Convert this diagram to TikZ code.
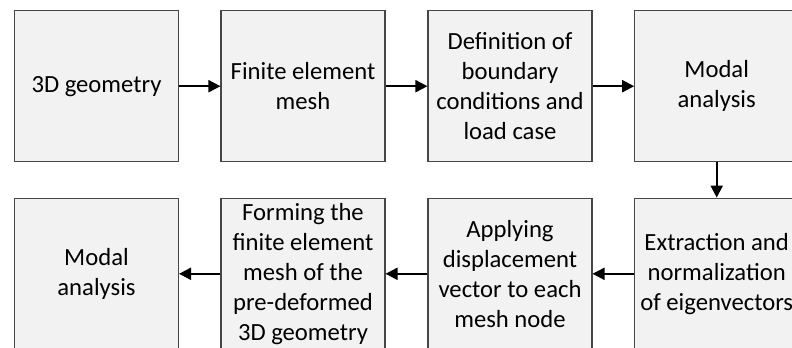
\documentclass[tikz,border=0pt]{standalone}
\usepackage{fontspec}
\setmainfont{Carlito}
\usetikzlibrary{arrows.meta}

\definecolor{boxfill}{RGB}{242,242,242}
\definecolor{boxline}{RGB}{70,70,70}

\tikzset{
  procbox/.style={draw=boxline, fill=boxfill, line width=0.8pt,
    minimum width=123pt, minimum height=113.5pt, inner sep=2pt,
    align=center, font=\fontsize{18.5}{22.5}\selectfont},
  flow/.style={line width=1.5pt, -{Triangle[length=9pt,width=9pt]}}
}

\begin{document}
\begin{tikzpicture}[x=0.75pt,y=0.75pt,yscale=-1,xscale=1]
%set diagram to 792 x 347
\clip (0,0) rectangle (792,347);
\fill[white] (0,0) rectangle (792,347);

% Top row
\node[procbox] (geom) at (96.5,86.2) {3D geometry};
\node[procbox] (mesh) at (303,86.2) {Finite element\\mesh};
\node[procbox] (bc) at (510,86.2) {Definition of\\boundary\\conditions and\\load case};
\node[procbox] (modal) at (716.7,86.2) {Modal\\analysis};

% Bottom row
\node[procbox] (eig) at (716.7,273.8) {Extraction and\\normalization\\of eigenvectors};
\node[procbox] (disp) at (510,273.8) {Applying\\displacement\\vector to each\\mesh node};
\node[procbox] (form) at (303,273.8) {Forming the\\finite element\\mesh of the\\pre-deformed\\3D geometry};
\node[procbox] (modal2) at (96.5,273.8) {Modal\\analysis};

% Arrows
\draw[flow] (geom) -- (mesh);
\draw[flow] (mesh) -- (bc);
\draw[flow] (bc) -- (modal);
\draw[flow] (modal) -- (eig);
\draw[flow] (eig) -- (disp);
\draw[flow] (disp) -- (form);
\draw[flow] (form) -- (modal2);

\end{tikzpicture}
\end{document}
